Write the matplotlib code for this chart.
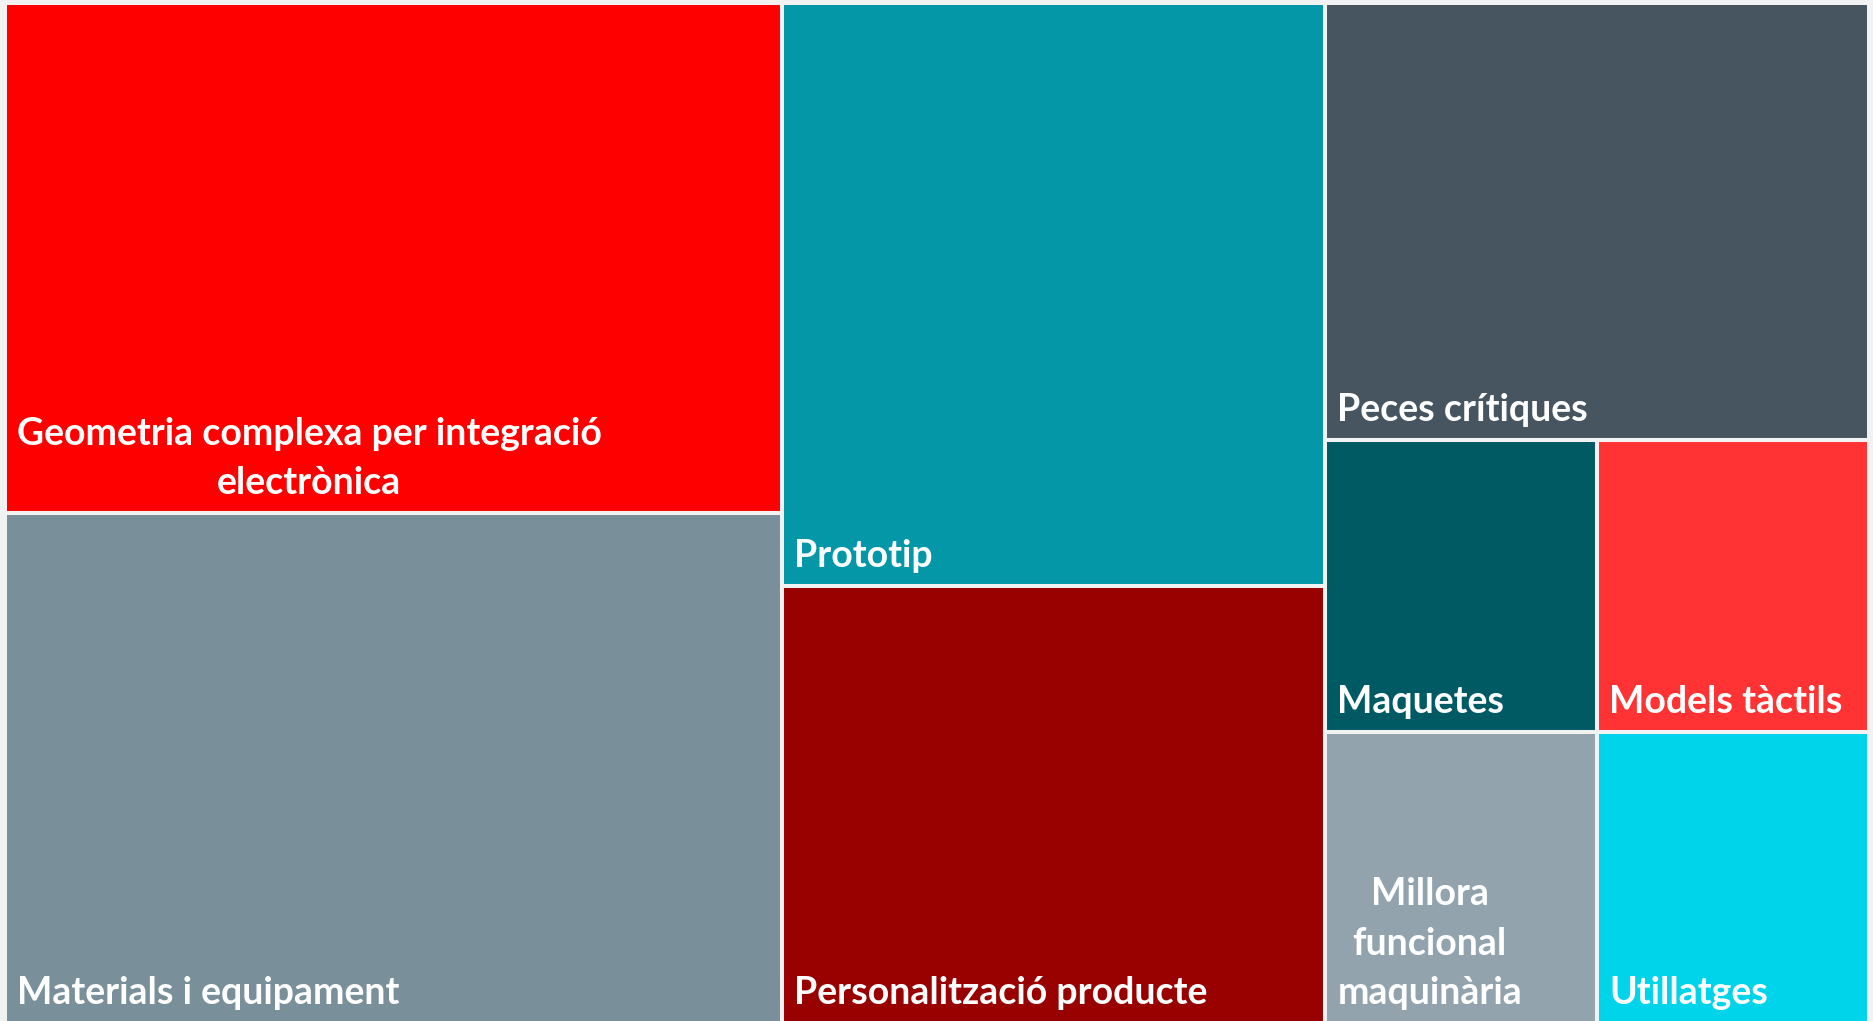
import matplotlib.pyplot as plt
from matplotlib.patches import Rectangle

# treemap data (values read as relative tile areas)
labels = ['Geometria complexa per integració\nelectrònica', 'Materials i equipament',
          'Prototip', 'Personalització producte', 'Peces crítiques',
          'Maquetes', 'Models tàctils', 'Millora\nfuncional\nmaquinària', 'Utillatges']
values = [5, 5, 4, 3, 3, 1, 1, 1, 1]
colors = ['#FF0000', '#798F9A', '#0397A7', '#990000', '#46555F',
          '#005A64', '#FF3333', '#93A3AD', '#00D4EA']

bg = '#F2F2F2'


def worst(row, side):
    s = sum(row)
    return max(max(side * side * r / (s * s), s * s / (side * side * r)) for r in row)


def squarify(vals, x, y, w, h):
    # classic squarified layout, vals in area units
    rects = []
    vals = list(vals)
    while vals:
        side = min(w, h)
        row = [vals[0]]
        i = 1
        while i < len(vals) and worst(row + [vals[i]], side) <= worst(row, side):
            row.append(vals[i])
            i += 1
        vals = vals[i:]
        s = sum(row)
        if w >= h:
            cw = s / h
            cy = y
            for r in row:
                rh = r / cw
                rects.append((x, cy, cw, rh))
                cy += rh
            x += cw
            w -= cw
        else:
            rh = s / w
            cx = x
            for r in row:
                rw = r / rh
                rects.append((cx, y, rw, rh))
                cx += rw
            y += rh
            h -= rh
    return rects


X0, Y0, W, H = 5, 3, 1864, 1020
total = sum(values)
areas = [v * W * H / total for v in values]
rects = squarify(areas, X0, Y0, W, H)

fig = plt.figure(figsize=(18.73, 10.21), dpi=100, facecolor=bg)
ax = fig.add_axes([0, 0, 1, 1])
ax.set_xlim(0, 1873)
ax.set_ylim(1021, 0)
ax.axis('off')

for (x, y, w, h), lab, c in zip(rects, labels, colors):
    ax.add_patch(Rectangle((x, y), w, h, facecolor=c, edgecolor=bg, linewidth=2.9))
    ax.text(x + 12, y + h - 13, lab, ha='left', va='bottom', multialignment='center',
            color='white', fontsize=27, fontweight='bold', family='Lato',
            linespacing=1.55)

plt.savefig('out.png', dpi=100, facecolor=bg)
